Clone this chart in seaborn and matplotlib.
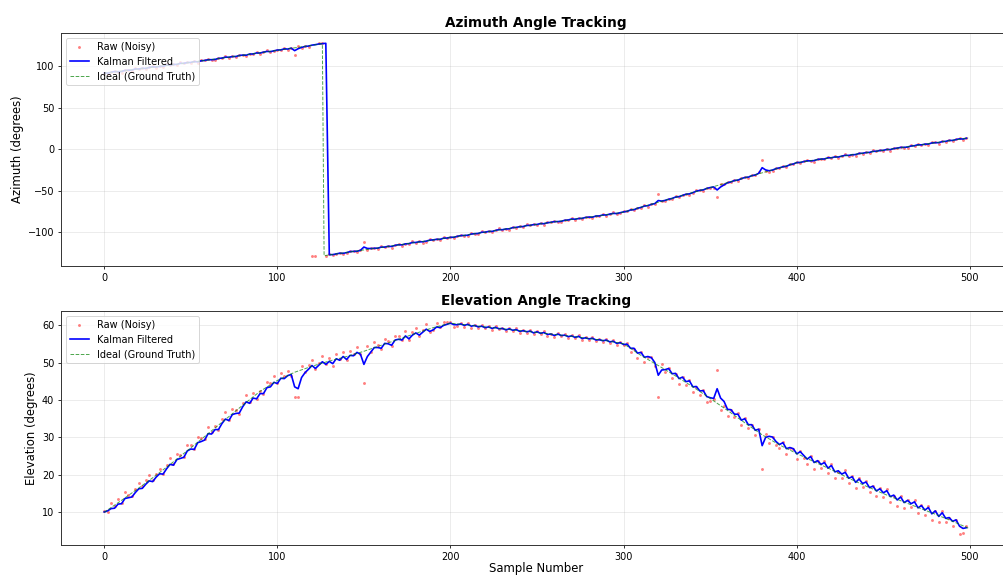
import numpy as np
import matplotlib
matplotlib.use("Agg")
import matplotlib.pyplot as plt
import seaborn as sns

# Sample index of every raw measurement / filter output (every second sample)
samples = np.arange(0, 500, 2)

# ---------------- Azimuth (degrees) ----------------
az_raw = [
    92.3, 90.8, 92.9, 94.5, 92.9, 92.3, 95.6, 95.2, 94.7, 97.7, 96.3, 98.1, 96.2, 98.7, 100.5, 98.2, 99.8, 98.6, 102.1, 100.9, 102.5, 101.2, 104.6, 103.2, 104.9,
    104.0, 106.4, 103.8, 106.8, 106.9, 108.7, 107.1, 107.1, 109.9, 109.5, 112.1, 110.1, 111.7, 110.4, 113.6, 113.5, 111.8, 115.1, 114.2, 116.6, 115.0, 117.1, 118.8, 116.6, 118.4,
    119.9, 119.4, 121.9, 119.7, 122.1, 113.4, 123.9, 121.6, 123.9, 123.4, -128.4, -128.2, 127.4, 127.5, -127.9, -125.4, -127.3, -125.6, -124.1, -126.3, -124.6, -121.9, -122.4, -123.4, -120.8,
    -111.1, -121.6, -118.2, -118.7, -119.6, -116.8, -118.0, -116.0, -118.1, -115.2, -113.9, -115.9, -113.5, -113.9, -110.7, -112.1, -110.5, -112.1, -111.0, -108.2, -108.8, -107.8, -109.6, -105.9, -107.1,
    -105.2, -106.6, -104.3, -102.6, -104.0, -104.5, -101.1, -101.3, -101.8, -98.6, -99.9, -98.0, -99.7, -97.2, -95.2, -97.4, -95.7, -96.7, -93.2, -94.2, -92.5, -93.7, -90.3, -91.6, -89.9,
    -90.7, -88.3, -90.8, -87.9, -87.7, -85.9, -87.5, -87.5, -84.7, -85.1, -82.5, -84.6, -83.0, -84.2, -81.1, -81.2, -82.9, -79.6, -80.5, -78.1, -79.7, -77.6, -75.9, -78.1, -76.3,
    -74.6, -74.5, -71.4, -73.1, -70.1, -70.0, -67.1, -68.8, -66.0, -65.9, -54.1, -62.0, -62.7, -59.2, -59.3, -56.2, -57.5, -55.2, -53.2, -54.8, -52.5, -49.2, -49.1, -49.6, -46.4,
    -46.0, -46.0, -57.0, -42.0, -42.3, -38.9, -39.5, -36.9, -38.5, -35.0, -33.1, -34.5, -31.5, -31.4, -27.6, -12.9, -26.2, -27.2, -25.6, -22.2, -22.2, -20.6, -21.8, -17.6, -18.0,
    -15.3, -16.7, -14.5, -12.8, -14.3, -14.8, -11.4, -11.7, -12.2, -9.1, -10.4, -8.5, -10.3, -7.8, -5.9, -8.1, -6.4, -7.5, -4.0, -5.1, -3.4, -4.6, -1.2, -2.5, -0.8,
    -1.6, 0.8, -1.7, 1.3, 1.5, 3.3, 1.7, 1.8, 4.6, 4.2, 6.8, 4.8, 6.4, 5.2, 8.4, 8.3, 6.6, 9.9, 9.1, 11.5, 9.9, 12.0, 13.7, 11.5, 13.3,
]
az_kalman = [
    91.7, 91.6, 92.6, 93.5, 93.3, 93.5, 94.8, 95.1, 95.3, 96.6, 96.5, 97.4, 97.2, 98.4, 99.2, 98.9, 99.7, 99.7, 101.2, 101.2, 102.0, 102.0, 103.4, 103.3, 104.3,
    104.4, 105.5, 105.1, 106.4, 106.8, 107.7, 107.7, 108.0, 109.3, 109.6, 110.8, 110.6, 111.5, 111.5, 112.8, 113.2, 113.1, 114.5, 114.6, 115.8, 115.7, 116.8, 117.7, 117.4, 118.4,
    119.3, 119.5, 120.7, 120.5, 121.6, 118.6, 120.9, 122.5, 123.6, 124.1, 125.2, 125.8, 126.6, 127.0, 127.4, -126.6, -126.6, -125.8, -124.9, -125.1, -124.2, -123.0, -122.7, -122.6, -121.4,
    -117.5, -119.2, -119.3, -119.0, -118.9, -117.6, -117.6, -116.6, -116.8, -115.5, -114.7, -114.9, -113.7, -113.4, -112.0, -112.0, -111.1, -111.2, -110.4, -109.2, -108.9, -108.2, -108.3, -106.8, -106.7,
    -105.8, -105.8, -104.6, -103.7, -103.6, -103.3, -101.9, -101.4, -101.2, -99.7, -99.7, -98.7, -98.7, -97.6, -96.5, -96.7, -95.8, -95.6, -94.1, -93.9, -93.0, -92.9, -91.5, -91.5, -90.5,
    -90.4, -89.2, -89.5, -88.3, -87.8, -86.9, -86.9, -86.6, -85.3, -85.0, -83.8, -84.1, -83.2, -83.1, -81.9, -81.5, -81.6, -80.2, -80.1, -78.9, -79.0, -77.9, -77.0, -77.3, -76.3,
    -75.2, -74.6, -72.9, -72.6, -70.9, -69.9, -68.2, -67.8, -66.2, -65.3, -61.6, -62.3, -61.4, -60.0, -59.1, -57.4, -56.9, -55.4, -54.0, -53.6, -52.1, -50.3, -49.4, -48.8, -47.0,
    -46.0, -45.2, -48.9, -45.3, -42.8, -40.2, -39.2, -37.5, -37.1, -35.3, -33.9, -33.5, -31.7, -30.9, -28.9, -22.1, -24.8, -25.8, -25.0, -23.2, -22.3, -21.0, -20.5, -18.5, -17.7,
    -15.9, -15.9, -14.8, -13.9, -13.9, -13.6, -12.2, -11.8, -11.6, -10.2, -10.2, -9.2, -9.3, -8.2, -7.2, -7.4, -6.5, -6.4, -4.9, -4.8, -3.9, -3.8, -2.4, -2.4, -1.4,
    -1.3, -0.1, -0.4, 0.9, 1.4, 2.3, 2.3, 2.7, 4.0, 4.3, 5.5, 5.3, 6.2, 6.3, 7.6, 8.0, 7.9, 9.3, 9.5, 10.7, 10.6, 11.7, 12.6, 12.3, 13.3,
]
az_ideal_x = [0, 10, 20, 30, 40, 50, 60, 70, 80, 90, 100, 110, 120, 126, 127, 130,
              140, 150, 160, 170, 180, 190, 200, 210, 220, 230, 240, 250, 260, 270,
              280, 290, 300, 310, 320, 330, 340, 350, 360, 370, 380, 390, 400, 410,
              420, 430, 440, 450, 460, 470, 480, 490, 499]
az_ideal = [91.5, 94.0, 96.6, 99.2, 101.8, 104.5, 107.3, 110.2, 113.1, 116.0, 119.0, 122.0, 125.0, 126.9, -127.9, -127.0,
            -124.0, -121.0, -118.0, -115.0, -112.0, -109.0, -106.0, -102.8, -99.6, -96.4, -93.2, -90.2, -87.3, -84.4,
            -81.6, -78.7, -75.5, -69.6, -63.7, -57.8, -51.9, -46.0, -40.1, -34.2, -28.3, -22.4, -16.1, -13.1,
            -10.1, -7.1, -4.1, -1.1, 1.9, 4.9, 7.9, 10.9, 13.6]

# ---------------- Elevation (degrees) ----------------
el_raw = [
    10.3, 10.2, 12.4, 11.7, 13.5, 12.6, 15.3, 14.7, 14.3, 16.3, 17.7, 16.9, 18.7, 20.0, 18.5, 20.3, 21.6, 20.2, 22.7, 24.6, 23.0, 25.5, 25.2, 24.9, 28.1,
    28.1, 26.8, 30.2, 29.8, 29.6, 32.7, 31.4, 33.1, 32.0, 34.8, 36.7, 34.7, 37.5, 37.2, 36.3, 39.3, 41.4, 39.5, 41.8, 40.2, 42.5, 41.7, 44.9, 44.5, 46.5,
    44.5, 47.2, 46.4, 47.6, 46.5, 40.7, 40.8, 49.2, 47.5, 49.3, 50.6, 48.2, 50.0, 51.8, 49.5, 51.2, 49.2, 52.2, 50.9, 52.9, 50.7, 53.0, 52.4, 54.1, 52.3,
    44.5, 54.3, 52.9, 55.6, 54.6, 53.6, 56.3, 55.7, 54.3, 57.1, 57.1, 56.1, 58.5, 56.0, 58.1, 59.1, 57.0, 58.6, 60.2, 58.2, 58.7, 60.5, 59.5, 60.7, 60.9,
    60.9, 59.6, 59.8, 60.5, 59.5, 60.5, 59.3, 60.0, 59.3, 59.9, 59.1, 59.7, 58.7, 59.7, 58.9, 59.2, 58.4, 59.2, 58.4, 59.2, 57.9, 58.6, 58.0, 58.7, 57.7,
    58.4, 57.7, 58.4, 57.2, 57.7, 56.8, 57.9, 57.1, 57.5, 56.6, 57.3, 56.5, 57.3, 56.0, 56.7, 56.1, 56.9, 55.7, 56.2, 55.5, 56.2, 55.3, 56.0, 54.7, 55.5,
    54.6, 55.3, 52.8, 53.6, 51.2, 52.7, 50.2, 51.4, 51.6, 49.2, 40.7, 49.7, 47.5, 48.4, 45.8, 46.9, 44.3, 46.0, 44.0, 45.3, 42.2, 43.5, 41.4, 42.6, 39.4,
    39.6, 40.2, 48.0, 37.4, 38.5, 35.7, 37.4, 35.5, 36.5, 33.4, 35.3, 32.5, 33.2, 30.6, 32.2, 21.5, 30.9, 28.4, 30.1, 28.1, 27.1, 28.8, 25.6, 27.1, 27.0,
    24.3, 26.4, 24.5, 22.8, 25.1, 21.7, 23.7, 21.8, 23.6, 20.5, 22.9, 19.2, 20.9, 19.2, 21.2, 17.9, 19.6, 16.4, 19.1, 16.8, 18.4, 15.3, 16.9, 14.3, 16.5,
    14.2, 16.3, 12.8, 14.4, 11.7, 14.3, 11.2, 13.3, 11.4, 13.2, 9.7, 11.9, 9.4, 11.6, 7.9, 10.4, 7.4, 10.3, 7.3, 8.4, 6.3, 8.0, 4.3, 4.5, 6.3,
]
el_kalman = [
    10.1, 10.4, 11.0, 11.1, 12.2, 12.3, 13.7, 13.9, 14.1, 15.3, 16.3, 16.4, 17.5, 18.4, 18.2, 19.4, 20.3, 20.2, 21.6, 22.8, 22.6, 24.1, 24.4, 24.7, 26.4,
    26.9, 26.8, 28.6, 28.9, 29.3, 31.0, 30.9, 32.1, 32.1, 33.7, 34.9, 34.5, 36.1, 36.4, 36.5, 38.2, 39.5, 39.1, 40.5, 40.3, 41.7, 41.7, 43.3, 43.5, 44.7,
    44.4, 45.8, 45.7, 46.5, 46.8, 43.5, 43.0, 46.0, 47.3, 48.2, 49.2, 48.4, 49.3, 50.2, 49.5, 50.3, 49.7, 51.0, 50.6, 51.6, 50.8, 51.9, 51.8, 52.7, 52.2,
    49.5, 51.6, 52.8, 54.0, 54.0, 53.8, 55.1, 55.0, 54.6, 56.0, 56.2, 56.0, 57.1, 56.3, 57.3, 57.9, 57.3, 58.1, 58.9, 58.3, 58.7, 59.5, 59.3, 59.9, 60.2,
    60.5, 60.1, 60.1, 60.3, 59.9, 60.2, 59.7, 59.9, 59.5, 59.7, 59.3, 59.5, 59.1, 59.4, 59.0, 59.1, 58.7, 59.0, 58.6, 58.8, 58.3, 58.5, 58.2, 58.4, 57.9,
    58.2, 57.8, 58.0, 57.5, 57.6, 57.2, 57.6, 57.2, 57.3, 56.9, 57.1, 56.7, 57.0, 56.4, 56.6, 56.3, 56.5, 56.0, 56.1, 55.8, 56.0, 55.5, 55.7, 55.1, 55.3,
    54.8, 54.9, 53.8, 53.8, 52.5, 52.7, 51.4, 51.6, 51.3, 50.0, 46.6, 48.0, 48.1, 48.4, 47.0, 47.1, 45.7, 46.1, 44.9, 45.1, 43.5, 43.6, 42.4, 42.5, 40.9,
    40.6, 40.4, 43.0, 40.5, 39.6, 37.5, 37.4, 36.2, 36.2, 34.6, 35.0, 33.4, 33.4, 31.9, 32.2, 27.8, 30.0, 30.3, 30.1, 28.9, 28.1, 28.6, 27.0, 27.3, 27.0,
    25.6, 26.2, 25.2, 24.2, 24.9, 23.3, 23.8, 22.8, 23.3, 21.8, 22.5, 20.8, 21.1, 20.2, 20.7, 19.1, 19.5, 18.0, 18.9, 17.7, 18.1, 16.6, 17.0, 15.7, 16.3,
    15.2, 15.8, 14.2, 14.6, 13.3, 14.1, 12.6, 13.2, 12.3, 12.8, 11.2, 11.8, 10.6, 11.3, 9.6, 10.4, 8.9, 9.9, 8.4, 8.6, 7.6, 8.0, 6.3, 5.7, 5.9,
]
el_ideal_x = [0, 10, 20, 30, 40, 50, 60, 70, 80, 90, 100, 110, 120, 130, 140, 150, 160,
              170, 180, 190, 200, 210, 220, 230, 240, 250, 260, 270, 280, 290, 300,
              310, 320, 330, 340, 350, 360, 370, 380, 390, 400, 410, 420, 430, 440,
              450, 460, 470, 480, 490, 499]
el_ideal = [10.0, 13.2, 16.5, 19.9, 23.5, 27.2, 31.0, 34.8, 38.6, 42.3, 45.2, 47.4, 49.0, 50.4, 51.6, 53.0, 54.6,
            56.2, 57.8, 59.3, 60.5, 60.0, 59.5, 59.0, 58.5, 58.0, 57.5, 57.0, 56.4, 55.8, 55.0,
            51.9, 49.2, 46.4, 43.5, 40.4, 37.2, 33.9, 30.7, 28.0, 25.7, 23.5, 21.4, 19.1, 17.0,
            15.0, 13.1, 11.3, 9.5, 7.6, 5.8]

DPI = 70
W, H = 1003, 576
fig = plt.figure(figsize=(W / DPI, H / DPI), dpi=DPI)
ax_az = fig.add_axes([61 / W, 1 - 266 / H, 950.4 / W, 233 / H])
ax_el = fig.add_axes([61 / W, 1 - 545 / H, 950.4 / W, 234 / H])


def draw_panel(ax, raw, kalman, ideal_x, ideal, title, ylabel, ylim):
    sns.scatterplot(x=samples, y=raw, ax=ax, color="red", s=9, alpha=0.5,
                    linewidth=0, label="Raw (Noisy)", zorder=2)
    sns.lineplot(x=samples, y=kalman, ax=ax, color="blue", linewidth=1.7,
                 estimator=None, sort=False, label="Kalman Filtered", zorder=3)
    sns.lineplot(x=ideal_x, y=ideal, ax=ax, color="green", linestyle="--",
                 linewidth=1, alpha=0.7, estimator=None, sort=False,
                 label="Ideal (Ground Truth)", zorder=4)
    ax.set_title(title, fontsize=14, fontweight="bold")
    ax.set_ylabel(ylabel, fontsize=12)
    ax.set_xlabel("")
    ax.set_xlim(-24.95, 523.95)
    ax.set_ylim(*ylim)
    ax.tick_params(labelsize=10)
    for side in ax.spines.values():
        side.set_color("#333333")
        side.set_linewidth(1.0)
    ax.grid(True, alpha=0.3)
    ax.legend(loc="upper left", fontsize=10)


draw_panel(ax_az, az_raw, az_kalman, az_ideal_x, az_ideal,
           "Azimuth Angle Tracking", "Azimuth (degrees)", (-140.3, 139.8))
draw_panel(ax_el, el_raw, el_kalman, el_ideal_x, el_ideal,
           "Elevation Angle Tracking", "Elevation (degrees)", (1.28, 63.75))
ax_el.set_xlabel("Sample Number", fontsize=12, labelpad=0.5)

fig.savefig("out.png", dpi=DPI)
